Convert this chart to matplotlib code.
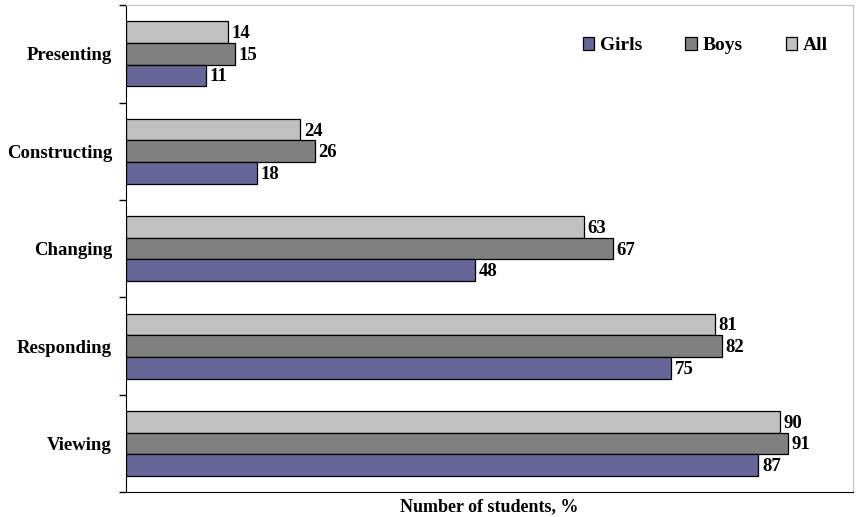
import matplotlib.pyplot as plt
import numpy as np

categories = ["Presenting", "Constructing", "Changing", "Responding", "Viewing"]
girls = [11, 18, 48, 75, 87]
boys = [15, 26, 67, 82, 91]
all_students = [14, 24, 63, 81, 90]

series = [("All", all_students, "#c0c0c0"),
          ("Boys", boys, "#808080"),
          ("Girls", girls, "#666699")]

plt.rcParams["font.family"] = ["Liberation Serif", "DejaVu Serif"]
plt.rcParams["font.weight"] = "bold"

fig = plt.figure(figsize=(8.56, 5.17), dpi=100)
ax = fig.add_axes([0.147, 0.048, 0.8495, 0.942])

y = np.arange(len(categories))
h = 0.222
handles = {}
for i, (name, vals, color) in enumerate(series):
    pos = y + (i - 1) * h
    bars = ax.barh(pos, vals, height=h, color=color, edgecolor="black", linewidth=0.9)
    handles[name] = bars
    for b, v in zip(bars, vals):
        ax.annotate(f"{v}", (v, b.get_y() + b.get_height() / 2), xytext=(2.5, -1),
                    textcoords="offset points", ha="left", va="center",
                    fontsize=13.5, fontweight="bold")

ax.set_xlim(0, 100)
ax.set_ylim(len(categories) - 0.5, -0.5)
ax.set_yticks(y)
ax.set_yticklabels(categories, fontsize=13.5, fontweight="bold")
ax.tick_params(axis="y", which="major", length=0, pad=10)
ax.set_yticks(np.arange(len(categories) + 1) - 0.5, minor=True)
ax.tick_params(axis="y", which="minor", length=5, width=1)
ax.set_xticks([])
ax.set_xlabel("Number of students, %", fontsize=13, fontweight="bold", labelpad=4)

ax.spines["left"].set_color("black")
ax.spines["bottom"].set_color("black")
for s in ("top", "right"):
    ax.spines[s].set_color("#c0c0c0")

leg = ax.legend([handles["Girls"], handles["Boys"], handles["All"]], ["Girls", "Boys", "All"],
                loc="upper right", bbox_to_anchor=(0.99, 0.97), ncol=3, frameon=False,
                fontsize=14, handlelength=0.6, handleheight=0.6, handletextpad=0.3,
                columnspacing=2.2)

fig.savefig("out.png", dpi=100)
